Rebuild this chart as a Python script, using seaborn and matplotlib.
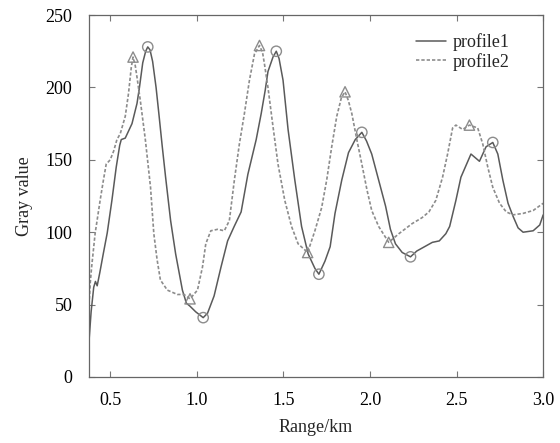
import matplotlib
matplotlib.use("Agg")
import matplotlib.pyplot as plt
import seaborn as sns
import pandas as pd

# Gray-value profiles along range (km)
range1 = [0.378, 0.39, 0.405, 0.415, 0.425, 0.44, 0.46, 0.483, 0.51, 0.535, 0.555, 0.564,
          0.587, 0.626, 0.655, 0.669, 0.688, 0.705, 0.717, 0.73, 0.745, 0.765, 0.781, 0.80,
          0.82, 0.849, 0.878, 0.917, 0.94, 0.96, 0.994, 1.037, 1.062, 1.1, 1.14, 1.178,
          1.216, 1.256, 1.295, 1.343, 1.372, 1.395, 1.411, 1.44, 1.459, 1.475, 1.498, 1.527,
          1.566, 1.605, 1.643, 1.682, 1.705, 1.74, 1.77, 1.798, 1.837, 1.876, 1.915, 1.953,
          1.98, 2.01, 2.05, 2.09, 2.118, 2.147, 2.186, 2.234, 2.27, 2.30, 2.36, 2.40,
          2.438, 2.46, 2.496, 2.525, 2.554, 2.583, 2.632, 2.67, 2.709, 2.738, 2.767, 2.797,
          2.826, 2.855, 2.884, 2.942, 2.98, 3.0]
gray1 = [25, 45, 62, 66, 63, 72, 85, 99.5, 122, 145, 160, 164,
         165, 175, 189, 200, 217, 225, 228, 226, 218, 200, 182, 160,
         138, 108, 85, 60, 51, 49, 45, 41, 44, 56, 76, 94,
         104, 114, 140, 164, 182, 198, 211, 221, 225, 220, 205, 171,
         136, 104, 85, 75, 71, 80, 90, 113, 136, 155, 164, 169,
         163, 154, 136, 118, 102, 92, 86, 83, 87, 89, 93, 94,
         99, 104, 122, 138, 146, 154, 149, 159, 162, 154, 136, 120,
         111, 103, 100, 101, 105, 112]

range2 = [0.378, 0.385, 0.393, 0.413, 0.442, 0.461, 0.477, 0.50, 0.52, 0.539, 0.558, 0.587,
          0.606, 0.622, 0.632, 0.645, 0.655, 0.674, 0.703, 0.733, 0.752, 0.771, 0.79, 0.83,
          0.888, 0.926, 0.961, 1.004, 1.033, 1.052, 1.081, 1.12, 1.159, 1.188, 1.217, 1.246,
          1.275, 1.304, 1.333, 1.362, 1.38, 1.391, 1.411, 1.44, 1.469, 1.508, 1.547, 1.585,
          1.64, 1.682, 1.721, 1.75, 1.779, 1.808, 1.835, 1.856, 1.875, 1.895, 1.924, 1.953,
          1.983, 2.01, 2.05, 2.108, 2.167, 2.244, 2.30, 2.34, 2.38, 2.419, 2.448, 2.477,
          2.496, 2.535, 2.574, 2.622, 2.651, 2.68, 2.709, 2.748, 2.787, 2.826, 2.884, 2.942,
          3.0]
gray2 = [50, 65, 76, 99, 122, 136, 147, 150, 156, 164, 168, 180,
         196, 214, 221, 215, 207, 191, 164, 131, 99, 81, 67, 60,
         57, 57, 54, 60, 76, 92, 101, 102, 101, 108, 136, 161,
         182, 205, 223, 229, 224, 216, 200, 173, 147, 122, 104, 92,
         86, 101, 117, 136, 159, 180, 193, 197, 191, 182, 164, 147,
         129, 115, 104, 93, 99, 106, 110, 114, 122, 138, 154, 172,
         174, 171, 174, 172, 161, 145, 131, 120, 114, 112, 113, 115,
         120]

# Extrema picked out on each profile
extrema1 = [0.717, 1.037, 1.459, 1.705, 1.953, 2.234, 2.709]
extrema2 = [0.632, 0.961, 1.362, 1.64, 1.856, 2.108, 2.574]

x_ticks = [0.5, 1.0, 1.5, 2.0, 2.5, 3.0]
y_ticks = [0, 50, 100, 150, 200, 250]

df1 = pd.DataFrame({"range": range1, "gray": gray1})
df2 = pd.DataFrame({"range": range2, "gray": gray2})
pk1 = df1[df1["range"].isin(extrema1)]
pk2 = df2[df2["range"].isin(extrema2)]

sns.set_theme(style="ticks")
plt.rcParams["font.family"] = ["Liberation Serif", "DejaVu Serif"]

fig = plt.figure(figsize=(5.6, 4.43), dpi=100)
ax = fig.add_axes([0.159, 0.149, 0.811, 0.817])

c1 = "#5a5a5a"
c2 = "#8c8c8c"
sns.lineplot(data=df1, x="range", y="gray", ax=ax, color=c1, lw=1.1,
             sort=False, estimator=None, label="profile1")
sns.lineplot(data=df2, x="range", y="gray", ax=ax, color=c2, lw=1.2,
             linestyle=(0, (2, 1.2)), sort=False, estimator=None, label="profile2")
sns.scatterplot(data=pk1, x="range", y="gray", ax=ax, marker="o", s=55,
                facecolor="none", edgecolor=c2, linewidth=1.0, zorder=5, legend=False)
sns.scatterplot(data=pk2, x="range", y="gray", ax=ax, marker="^", s=55,
                facecolor="none", edgecolor=c2, linewidth=1.0, zorder=5, legend=False)

ax.set_xlim(0.378, 3.0)
ax.set_ylim(0, 250)
ax.set_xticks(x_ticks)
ax.set_xticklabels([f"{t:.1f}" for t in x_ticks])
ax.set_yticks(y_ticks)
ax.set_yticklabels([str(t) for t in y_ticks])
ax.tick_params(direction="in", length=4, width=0.8, color="#777777",
               top=True, right=True, labelsize=13, labelcolor="black")
ax.tick_params(axis="x", pad=11)
ax.tick_params(axis="y", pad=12)
for sp in ax.spines.values():
    sp.set_color("#666666")
    sp.set_linewidth(0.9)

ax.set_xlabel("Range/km", fontsize=13, labelpad=7)
ax.set_ylabel("Gray value", fontsize=13, labelpad=9)

leg = ax.legend(loc="upper right", frameon=False, fontsize=13,
                bbox_to_anchor=(0.955, 0.985), handlelength=1.65,
                handletextpad=0.4, labelspacing=0.1, borderaxespad=0.3)

fig.savefig("out.png", dpi=100)
